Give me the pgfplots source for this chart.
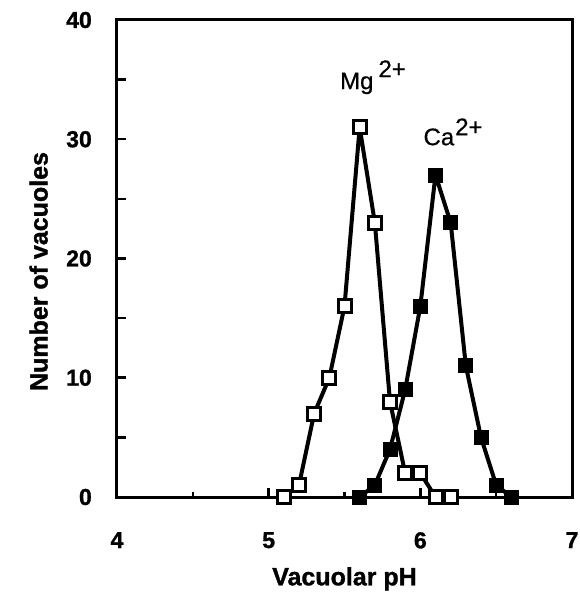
\documentclass[border=0pt]{standalone}
\usepackage{pgfplots}
\pgfplotsset{compat=1.18}
\usepackage{fontspec}
\setmainfont{Liberation Sans}[BoldFeatures={FakeBold=1.2}]
\newfontfamily\labelfont{Liberation Sans}[FakeBold=0.6]
\begin{document}
\begin{tikzpicture}
\begin{axis}[
  scale only axis,
  width=455pt, height=477pt,
  xmin=4, xmax=7, ymin=0, ymax=40,
  axis line style={line width=3pt},
  xtick={4,5,6,7},
  minor xtick={4.5,5.5,6.5},
  ytick={0,5,...,40},
  yticklabels={0,,10,,20,,30,,40},
  xtick pos=bottom, ytick pos=left,
  tick align=inside,
  major tick length=9pt, minor tick length=5pt,
  every tick/.style={black, line width=2.5pt},
  /pgf/number format/assume math mode=true,
  tick label style={font=\fontsize{23}{27}\selectfont\bfseries, inner sep=0pt},
  xticklabel shift=35pt,
  yticklabel shift=25pt,
  xlabel={Vacuolar pH},
  xlabel style={at={(axis description cs:0.5,0)}, anchor=north, yshift=-70pt,
    font=\fontsize{25}{30}\selectfont\bfseries, inner sep=0pt},
]
\addplot[black, line width=4pt, line join=round, mark=square*, mark size=6.5pt,
  mark options={fill=black, line width=2pt, solid, line join=miter}]
  coordinates {(5.6,0) (5.7,1) (5.8,4) (5.9,9) (6.0,16) (6.1,27) (6.2,23) (6.3,11) (6.4,5) (6.5,1) (6.6,0)};
\addplot[black, line width=4pt, line join=round, mark=square*, mark size=6.5pt,
  mark options={fill=white, line width=3pt, solid, line join=miter}]
  coordinates {(5.1,0) (5.2,1) (5.3,7) (5.4,10) (5.5,16) (5.6,31) (5.7,23) (5.8,8) (5.9,2) (6.0,2) (6.1,0) (6.2,0)};
\node[anchor=base west, inner sep=0pt, font=\fontsize{24}{28}\labelfont] at (axis cs:5.47,34.2) {Mg\hspace{5pt}\raisebox{12pt}{2+}};
\node[anchor=base west, inner sep=0pt, font=\fontsize{24}{28}\labelfont] at (axis cs:6.02,29.5) {Ca\hspace{1pt}\raisebox{10pt}{2+}};
\end{axis}
\node[rotate=90, anchor=south, inner sep=0pt, font=\fontsize{25}{30}\selectfont\bfseries]
  at ([shift={(-69pt,-13pt)}]current axis.west) {Number of vacuoles};
\pgfresetboundingbox
\path ([shift={(-117pt,-97pt)}]current axis.south west) rectangle ([shift={(7pt,20pt)}]current axis.north east);
\end{tikzpicture}
\end{document}
